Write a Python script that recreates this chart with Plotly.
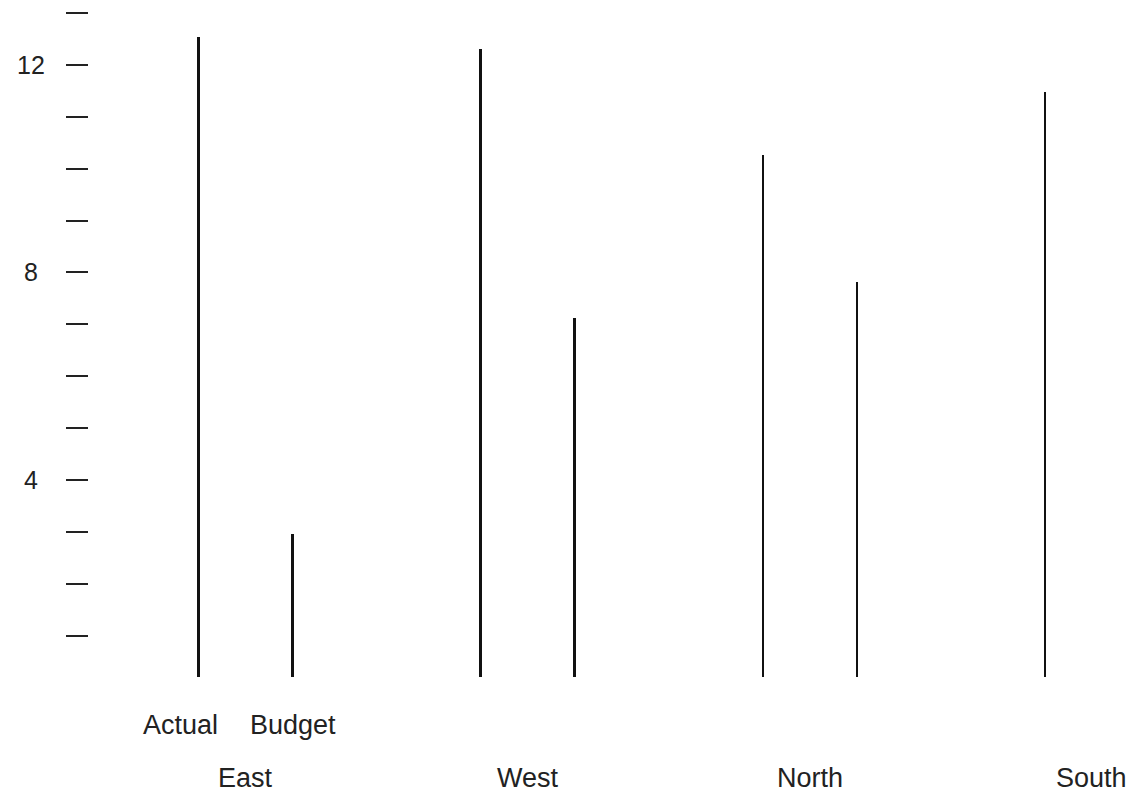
import plotly.graph_objects as go

regions = ["East", "West", "North", "South"]
series = ["Actual", "Budget"]
actual = [12.55, 12.31, 10.27, 11.49]
budget = [2.96, 7.12, 7.81, 8.34]
y_tick_labels = ["4", "8", "12"]

# category slots: each region takes 3 slots (Actual, Budget, gap)
def pos(g, s):
    return 3 * g + s

fig = go.Figure()
for s, (name, vals) in enumerate(zip(series, [actual, budget])):
    fig.add_trace(go.Bar(
        x=[pos(g, s) for g in range(len(regions))],
        y=vals,
        width=0.026,
        marker=dict(color="#111111", line=dict(width=0)),
        name=name,
        showlegend=False,
    ))

font = dict(family="Liberation Sans, Arial, sans-serif", size=27, color="#222222")
tick_font = dict(family="Liberation Sans, Arial, sans-serif", size=25, color="#222222")

# inner labels only under the first group
for s, name in enumerate(series):
    fig.add_annotation(
        x=pos(0, s), y=0, xref="x", yref="paper",
        text=name, showarrow=False, font=font,
        yanchor="middle", yshift=-48, xshift=(-18 if s == 0 else 0),
    )
# group labels
for g, r in enumerate(regions):
    fig.add_annotation(
        x=pos(g, 0.5), y=0, xref="x", yref="paper",
        text=r, showarrow=False, font=font,
        yanchor="middle", yshift=-101,
    )
# y tick labels (centered, as in the reference)
for t in y_tick_labels:
    fig.add_annotation(
        x=0, y=int(t), xref="paper", yref="y",
        text=t, showarrow=False, font=tick_font,
        xanchor="center", yanchor="middle", xshift=-58,
    )

fig.update_layout(
    width=1128, height=786,
    margin=dict(l=81, r=0, t=0, b=117),
    plot_bgcolor="white", paper_bgcolor="white",
    bargap=0,
    font=font,
)
fig.update_xaxes(
    range=[-1.166, 9.97], showgrid=False, zeroline=False,
    showticklabels=False, ticks="", showline=False,
)
fig.update_yaxes(
    range=[0.2, 13.1], showgrid=False, zeroline=False, showline=False,
    tickmode="array", tickvals=[int(t) for t in y_tick_labels],
    showticklabels=False,
    ticks="outside", ticklen=22, tickwidth=2, tickcolor="#222222",
    minor=dict(dtick=1, tick0=0, ticks="outside", ticklen=22, tickwidth=2,
               tickcolor="#222222", showgrid=False),
)

fig.write_html("out.html")
